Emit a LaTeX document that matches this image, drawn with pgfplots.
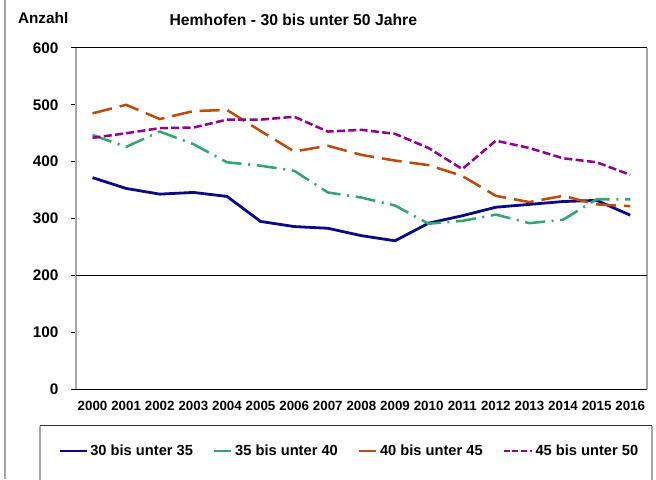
\documentclass[border=0pt]{standalone}
\usepackage{fontspec}
\setmainfont{Liberation Sans}
\usepackage{pgfplots}
\pgfplotsset{compat=1.18}
\definecolor{navy}{RGB}{10,10,135}
\definecolor{sgreen}{RGB}{50,165,115}
\definecolor{rust}{RGB}{190,75,10}
\definecolor{violet}{RGB}{145,0,145}

\begin{document}
\begin{tikzpicture}
\useasboundingbox (0,0) rectangle (492pt,359.25pt);
% outer frame line at the left
\draw[gray!70, line width=1.2pt] (3.75pt,0) -- (3.75pt,359.25pt);
% legend box
\draw[gray!70, line width=0.8pt] (30pt,-1pt) -- (30pt,40pt);
\draw[black!80, line width=0.8pt] (30pt,40pt) -- (489pt,40pt);
\draw[gray!70, line width=0.8pt] (489pt,40pt) -- (489pt,-1pt);
% titles
\node[anchor=west, font=\fontsize{11.5}{13}\selectfont\bfseries] at (10pt,345.5pt) {Anzahl};
\node[font=\fontsize{11.8}{13}\selectfont\bfseries] at (220pt,344.5pt) {Hemhofen - 30 bis unter 50 Jahre};

\begin{axis}[
    at={(56.8pt,67.3pt)}, anchor=south west,
    width=428.5pt, height=256pt, scale only axis,
    xmin=-0.5, xmax=16.5, ymin=0, ymax=600,
    clip=false,
    axis line style={draw=none},
    xtick={0,...,16},
    xticklabels={2000,2001,2002,2003,2004,2005,2006,2007,2008,2009,2010,2011,2012,2013,2014,2015,2016},
    minor xtick={-0.5,0.5,...,16.5},
    ytick={0,100,...,600},
    xtick pos=bottom, ytick pos=left,
    tick align=outside,
    major tick length=3.5pt, minor tick length=2.5pt,
    xtick style={draw=none},
    minor tick style={black, line width=0.6pt},
    ytick style={black, line width=0.75pt},
    /pgf/number format/assume math mode=true,
    xticklabel style={font=\fontsize{10}{12}\selectfont\bfseries, yshift=-2pt},
    yticklabel style={font=\fontsize{11.5}{13}\selectfont\bfseries, xshift=-6pt},
    legend columns=4,
    legend style={at={(-0.03,-0.181)}, anchor=west, draw=none, fill=none,
      inner sep=0pt, font=\fontsize{11}{13}\selectfont\bfseries,
      /tikz/every even column/.append style={column sep=13pt}},
    legend cell align=left,
  ]
  % frame of the plot area
  \draw[gray!70, line width=1.2pt] (rel axis cs:0,0) -- (rel axis cs:0,1);
  \draw[black, line width=0.8pt] (rel axis cs:0,1) -- (rel axis cs:1,1);
  \draw[gray!70, line width=1.2pt] (rel axis cs:1,1) -- (rel axis cs:1,0);
  \draw[black, line width=0.9pt] (rel axis cs:0,0) -- (rel axis cs:1,0);
  \draw[black, line width=0.9pt] (axis cs:-0.5,200) -- (axis cs:16.5,200);

  \addplot[navy, line width=2.1pt, forget plot] coordinates {
    (0,372) (1,353) (2,343) (3,346) (4,339) (5,295) (6,286) (7,283) (8,270)
    (9,261) (10,292) (11,305) (12,320) (13,325) (14,330) (15,332) (16,306)
  };
  \addplot[sgreen, line width=1.9pt, dash pattern=on 15pt off 5pt on 1.5pt off 5pt, forget plot] coordinates {
    (0,447) (1,426) (2,453) (3,431) (4,399) (5,393) (6,384) (7,346) (8,337)
    (9,323) (10,291) (11,296) (12,307) (13,292) (14,298) (15,334) (16,334)
  };
  \addplot[rust, line width=1.9pt, dash pattern=on 15pt off 6pt, forget plot] coordinates {
    (0,485) (1,500) (2,475) (3,489) (4,491) (5,454) (6,418) (7,428) (8,412)
    (9,402) (10,394) (11,375) (12,340) (13,329) (14,340) (15,325) (16,322)
  };
  \addplot[violet, line width=1.9pt, dash pattern=on 6pt off 2.5pt, forget plot] coordinates {
    (0,442) (1,450) (2,459) (3,460) (4,474) (5,474) (6,479) (7,453) (8,456)
    (9,449) (10,424) (11,387) (12,437) (13,424) (14,406) (15,399) (16,377)
  };

  \addlegendimage{legend image code/.code={\draw[navy, line width=1.6pt] (0pt,0pt) -- (20pt,0pt);}}
  \addlegendentry{30 bis unter 35}
  \addlegendimage{legend image code/.code={\draw[sgreen, line width=1.6pt] (4pt,0pt) -- (17pt,0pt);}}
  \addlegendentry{35 bis unter 40}
  \addlegendimage{legend image code/.code={\draw[rust, line width=1.6pt] (4pt,0pt) -- (17pt,0pt);}}
  \addlegendentry{40 bis unter 45}
  \addlegendimage{legend image code/.code={\draw[violet, line width=1.6pt, dash pattern=on 4.5pt off 2pt] (0pt,0pt) -- (21pt,0pt);}}
  \addlegendentry{45 bis unter 50}
\end{axis}
\end{tikzpicture}
\end{document}
